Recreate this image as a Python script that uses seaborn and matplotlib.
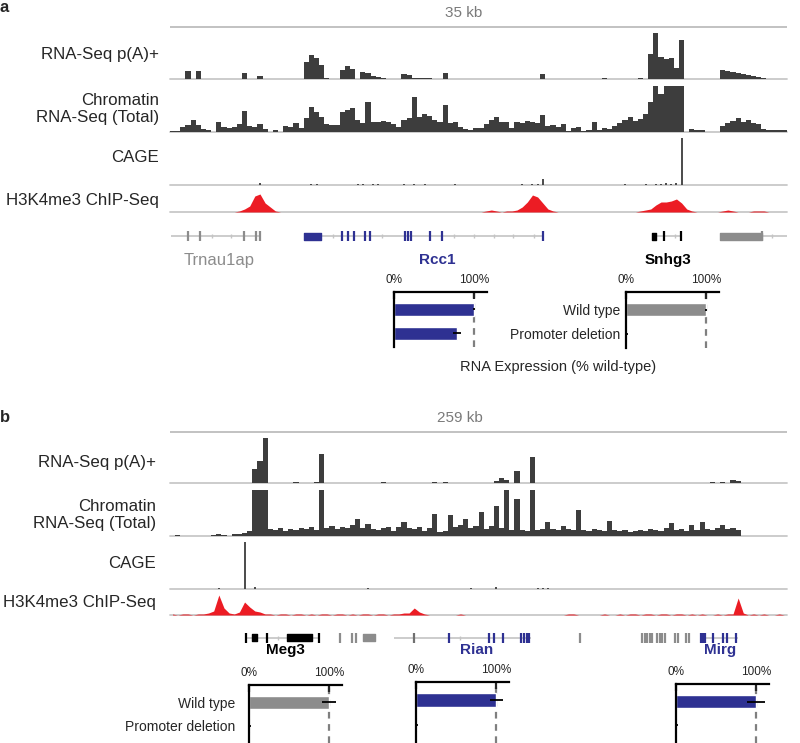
import numpy as np
import matplotlib
matplotlib.use('Agg')
import matplotlib.pyplot as plt
import seaborn as sns

sns.set_style('white')
plt.rcParams['font.family'] = ['Liberation Sans', 'DejaVu Sans']

W, H = 800, 743
DARK = '#3d3d3d'
RED = '#ec1c24'
BLUE = '#2e3192'
GREYBAR = '#8c8c8c'
INTRON = '#c4c4c4'
BASE = '#c8c8c8'

# ---------------- data: panel a (35 kb window, 120 bins) ----------------
span_a = 35.0
a_polyA = [0, 0, 0, 8, 0, 8, 0, 0, 0, 0, 0, 0, 0, 0, 6, 0, 0, 3, 0, 0,
           0, 0, 0, 0, 0, 0, 17, 24, 21, 14, 1, 0, 0, 9, 13, 10, 0, 7, 6, 3,
           2, 1, 0, 0, 0, 5, 4, 1, 1, 1, 1, 0, 0, 6, 0, 0, 0, 0, 0, 0,
           0, 0, 0, 0, 0, 0, 0, 0, 0, 0, 0, 0, 5, 0, 0, 0, 0, 0, 0, 0,
           0, 0, 0, 0, 1, 0, 0, 0, 0, 0, 0, 1, 0, 25, 46, 22, 20, 21, 11, 39,
           0, 0, 0, 0, 0, 0, 0, 9, 8, 7, 6, 5, 4, 3, 2, 1, 0, 0, 0, 0]
a_chrom = [1, 1, 5, 7, 12, 7, 3, 2, 0, 10, 5, 4, 5, 8, 21, 6, 5, 8, 3, 0,
           2, 0, 6, 5, 9, 4, 14, 25, 20, 15, 8, 7, 7, 20, 22, 24, 12, 9, 30, 10,
           10, 11, 10, 8, 5, 12, 14, 35, 15, 18, 16, 12, 10, 27, 9, 10, 5, 3, 2, 4,
           4, 8, 12, 15, 10, 10, 4, 10, 9, 11, 10, 9, 17, 6, 7, 5, 8, 1, 4, 5,
           1, 2, 10, 2, 4, 3, 6, 9, 12, 15, 11, 13, 18, 30, 46, 38, 46, 46, 46, 46,
           0, 3, 2, 2, 0, 0, 0, 6, 9, 11, 14, 10, 12, 9, 8, 3, 2, 2, 2, 2]
a_cage = [0, 0, 0, 0, 0, 0, 0, 0, 0, 0, 0, 0, 0, 0, 0, 0, 0, 2, 0, 0,
          0, 0, 0, 0, 0, 0, 0, 1, 1, 0, 0, 0, 0, 0, 0, 0, 1, 1, 0, 1,
          1, 0, 0, 0, 0, 1, 0, 1, 0, 1, 0, 0, 0, 0, 0, 1, 0, 0, 0, 0,
          0, 0, 0, 0, 0, 0, 0, 0, 1, 0, 1, 1, 6, 0, 0, 0, 0, 0, 0, 0,
          0, 0, 0, 0, 0, 0, 0, 0, 1, 0, 0, 0, 1, 0, 1, 1, 2, 1, 2, 47,
          0, 0, 0, 0, 0, 0, 0, 0, 0, 0, 0, 0, 0, 0, 0, 0, 0, 0, 0, 0]
a_h3k4 = [0, 0, 0, 0, 0, 0, 0, 0, 0, 0, 0, 0, 0, 1, 3, 6, 16, 18, 9, 5,
          1, 0, 0, 0, 0, 0, 0, 0, 0, 0, 0, 0, 0, 0, 0, 0, 0, 0, 0, 0,
          0, 0, 0, 0, 0, 0, 0, 0, 0, 0, 0, 0, 0, 0, 0, 0, 0, 0, 0, 0,
          0, 1, 2, 1, 0, 1, 1, 2, 5, 10, 17, 15, 9, 3, 1, 0, 0, 0, 0, 0,
          0, 0, 0, 0, 0, 0, 0, 0, 0, 0, 0, 1, 2, 3, 7, 10, 10, 11, 13, 9,
          3, 1, 0, 0, 0, 0, 0, 1, 2, 1, 0, 0, 0, 1, 1, 1, 0, 0, 0, 0]

# genes, panel a (kb)
trnau1ap_span = (0.06, 5.16)
trnau1ap_exons = [1.01, 1.70, 4.18, 4.87, 5.10]
trnau1ap_ticks = [2.39, 3.48]
rcc1_span = (7.58, 21.2)
rcc1_blocks = [(7.58, 8.58)]
rcc1_exons = [9.73, 10.08, 10.43, 11.05, 11.36, 13.32, 13.49, 13.67, 14.76, 15.45, 21.15]
rcc1_ticks = [9.27, 12.05, 16.10, 17.26, 18.37, 19.48, 20.62]
snhg3_span = (27.33, 29.02)
snhg3_blocks = [(27.33, 27.56)]
snhg3_exons = [28.03, 29.0]
snhg3_ticks = [28.65]
right_gene_span = (31.2, 35.0)
right_gene_blocks = [(31.2, 33.58)]
right_gene_exons = [33.58]
right_gene_ticks = [34.16]

# ---------------- data: panel b (259 kb window, 120 bins) ----------------
span_b = 259.0
b_polyA = [0, 0, 0, 0, 0, 0, 0, 0, 0, 0, 0, 0, 0, 0, 0, 0, 14, 22, 45, 0,
           0, 0, 0, 0, 1, 0, 0, 0, 1, 29, 0, 0, 0, 0, 0, 0, 0, 0, 0, 0,
           0, 1, 0, 0, 0, 0, 0, 0, 0, 0, 0, 1, 0, 1, 0, 0, 0, 0, 0, 0,
           0, 0, 0, 2, 5, 3, 0, 12, 0, 0, 26, 0, 0, 0, 0, 0, 0, 0, 0, 0,
           0, 0, 0, 0, 0, 0, 0, 0, 0, 0, 0, 0, 0, 0, 0, 0, 0, 0, 0, 0,
           0, 0, 0, 0, 0, 1, 0, 1, 0, 3, 2, 0, 0, 0, 0, 0, 0, 0, 0, 0]
b_chrom = [0, 1, 0, 0, 0, 0, 0, 0, 1, 2, 1, 0, 2, 2, 3, 5, 46, 46, 46, 7,
           6, 8, 5, 7, 6, 8, 7, 9, 6, 46, 8, 10, 7, 9, 8, 11, 17, 8, 12, 7,
           6, 8, 9, 5, 9, 14, 8, 7, 9, 5, 8, 22, 4, 5, 21, 9, 11, 17, 8, 10,
           24, 7, 10, 30, 8, 46, 6, 37, 6, 5, 46, 6, 7, 14, 7, 6, 10, 7, 6, 26,
           6, 5, 7, 6, 5, 15, 6, 5, 6, 4, 5, 6, 5, 7, 6, 5, 8, 13, 6, 7,
           5, 11, 6, 14, 7, 6, 8, 11, 7, 8, 6, 0, 0, 0, 0, 0, 0, 0, 0, 0]
b_cage = [0, 0, 0, 0, 0, 0, 0, 0, 0, 1, 0, 0, 0, 0, 47, 0, 2, 0, 0, 0,
          0, 0, 0, 0, 0, 0, 0, 0, 0, 0, 0, 0, 0, 0, 0, 0, 0, 0, 1, 0,
          0, 0, 0, 0, 0, 0, 0, 0, 0, 0, 0, 0, 0, 0, 0, 0, 0, 0, 1, 0,
          0, 0, 0, 2, 0, 0, 0, 0, 0, 0, 0, 1, 1, 1, 0, 0, 0, 0, 0, 0,
          0, 0, 0, 0, 0, 0, 0, 0, 0, 0, 0, 0, 0, 0, 0, 0, 0, 0, 0, 0,
          0, 0, 0, 0, 0, 0, 0, 0, 0, 0, 0, 0, 0, 0, 0, 0, 0, 0, 0, 0]
b_h3k4 = [1, 0, 1, 1, 0, 1, 1, 2, 4, 20, 7, 2, 1, 3, 13, 8, 4, 3, 1, 1,
          0, 1, 1, 0, 1, 1, 0, 1, 0, 1, 1, 0, 1, 1, 0, 1, 0, 1, 1, 0,
          1, 1, 0, 1, 1, 2, 2, 7, 3, 1, 0, 0, 0, 0, 0, 0, 1, 0, 0, 0,
          0, 0, 0, 0, 0, 0, 0, 0, 0, 0, 0, 0, 0, 0, 0, 0, 0, 1, 1, 0,
          0, 0, 0, 0, 1, 0, 0, 1, 0, 1, 1, 0, 1, 1, 0, 1, 1, 0, 1, 1,
          0, 1, 0, 1, 0, 0, 1, 0, 1, 1, 17, 2, 0, 1, 0, 1, 0, 0, 1, 0]

# genes, panel b (kb)
meg3_span = (31.8, 62.6)
meg3_blocks = [(34.3, 36.4), (49.2, 59.5)]
meg3_exons = [32.1, 40.7, 62.6]
meg3_ticks = [45.5]
grey1_exons = [71.2, 76.3, 78.0]
grey1_blocks = [(81.0, 86.1)]
rian_span = (94.0, 151.7)
rian_first_exon = [102.4]
rian_exons = [117.1, 133.8, 136.0, 139.8, 147.4, 148.8, 150.0, 150.9]
rian_ticks = [121.7]
grey2_exons = [172.3, 198.3, 199.4, 200.4, 201.4, 202.4, 204.5, 205.5, 206.5,
               207.6, 212.1, 213.1, 216.8, 217.9]
mirg_span = (222.8, 238.3)
mirg_exons = [222.8, 223.7, 224.6, 228.0, 232.3, 234.0, 237.7]

# expression (fraction of wild type)
conditions = ['Wild type', 'Promoter deletion']
rcc1_expr, rcc1_err = [1.00, 0.78], [0.01, 0.05]
snhg3_expr, snhg3_err = [1.00, 0.01], [0.01, 0.01]
meg3_expr, meg3_err = [1.00, 0.01], [0.09, 0.01]
rian_expr, rian_err = [1.00, 0.01], [0.08, 0.01]
mirg_expr, mirg_err = [1.00, 0.01], [0.11, 0.01]

fig = plt.figure(figsize=(8, 7.43), dpi=100)


def box(x, y, w, h):
    return [x / W, 1 - (y + h) / H, w / W, h / H]


def ftext(x, y, s, **kw):
    fig.text(x / W, 1 - y / H, s, **kw)


def draw_track(top, height, span, values, kind):
    ax = fig.add_axes(box(170, top, 617, height))
    n = len(values)
    edges = np.linspace(0, span, n + 1)
    centers = (edges[:-1] + edges[1:]) / 2
    ax.axhline(0, color=BASE, lw=1.3, zorder=0, clip_on=False)
    if kind == 'cov':
        ax.fill_between(edges, 0, list(values) + [values[-1]], step='post',
                        color=DARK, lw=0)
    elif kind == 'cage':
        ax.vlines(centers, 0, values, color=DARK, lw=1.3)
    else:
        ax.fill_between(centers, 0, values, color=RED, lw=0)
    ax.set_xlim(0, span)
    ax.set_ylim(0, height)
    ax.axis('off')


def draw_ruler(y, span, label, label_x):
    ax = fig.add_axes(box(170, y - 2, 617, 4))
    ax.hlines(0, 0, span, color='#b8b8b8', lw=1.2)
    ax.set_xlim(0, span)
    ax.set_ylim(-1, 1)
    ax.axis('off')
    ftext(label_x, y - 14, label, ha='center', va='center', fontsize=11, color='#7a7a7a')


def gene_axes(top, span):
    ax = fig.add_axes(box(170, top, 617, 20))
    ax.set_xlim(0, span)
    ax.set_ylim(-1, 1)
    ax.axis('off')
    return ax


def draw_gene(ax, color, span=None, blocks=(), exons=(), ticks=()):
    if span is not None:
        ax.hlines(0, span[0], span[1], color=INTRON, lw=1.2, zorder=1)
    for s, e in blocks:
        ax.broken_barh([(s, e - s)], (-0.35, 0.7), color=color, zorder=2)
    if len(exons):
        ax.vlines(exons, -0.5, 0.5, color=color, lw=1.6, zorder=2)
    if len(ticks):
        ax.vlines(ticks, -0.2, 0.2, color=INTRON, lw=1, zorder=1)


def draw_bars(left, top, height, values, errors, color, labels=False, pad=4, ybottom=1.59):
    ax = fig.add_axes(box(left, top, 93, height))
    sns.barplot(x=values, y=conditions, orient='h', color=color, saturation=1,
                width=0.55, errorbar=None, ax=ax)
    ax.errorbar(values, [0, 1], xerr=errors, fmt='none', ecolor='black',
                elinewidth=1.3, capsize=0, zorder=4)
    ax.axvline(1, color='#7f7f7f', lw=1.6, ls=(0, (3, 2.5)), zorder=0.5)
    ax.set_xlim(0, 1.16)
    ax.set_ylim(ybottom, -0.74)
    for side in ['right', 'bottom']:
        ax.spines[side].set_visible(False)
    for side in ['left', 'top']:
        ax.spines[side].set_visible(True)
        ax.spines[side].set_linewidth(1.6)
        ax.spines[side].set_color('black')
    ax.set_xticks([0, 1])
    ax.set_xticklabels(['0%', '100%'])
    ax.tick_params(axis='x', top=True, bottom=False, labeltop=True, labelbottom=False,
                   direction='in', length=5, width=1.6, pad=4, labelsize=8.5)
    if labels:
        ax.set_yticks([0, 1])
        ax.set_yticklabels(conditions)
        ax.tick_params(axis='y', left=False, length=0, pad=pad, labelsize=10)
    else:
        ax.set_yticks([])
    ax.set_xlabel('')
    ax.set_ylabel('')
    return ax


# ---------------- panel a ----------------
ftext(0, 7, 'a', fontsize=12, fontweight='bold', va='center')
draw_ruler(27, span_a, '35 kb', 464)
draw_track(33, 46, span_a, a_polyA, 'cov')
draw_track(86, 46, span_a, a_chrom, 'cov')
draw_track(138, 47, span_a, a_cage, 'cage')
draw_track(192, 20, span_a, a_h3k4, 'red')

ftext(159, 55, 'RNA-Seq p(A)+', ha='right', va='center', fontsize=12.2)
ftext(159, 109, 'Chromatin\nRNA-Seq (Total)', ha='right', va='center', fontsize=12.2,
      linespacing=1.15)
ftext(159, 157, 'CAGE', ha='right', va='center', fontsize=12.2)
ftext(159, 200, 'H3K4me3 ChIP-Seq', ha='right', va='center', fontsize=12.2)

gax = gene_axes(226, span_a)
draw_gene(gax, GREYBAR, trnau1ap_span, exons=trnau1ap_exons, ticks=trnau1ap_ticks)
draw_gene(gax, BLUE, rcc1_span, rcc1_blocks, rcc1_exons, rcc1_ticks)
draw_gene(gax, 'black', snhg3_span, snhg3_blocks, snhg3_exons, snhg3_ticks)
draw_gene(gax, GREYBAR, right_gene_span, right_gene_blocks, right_gene_exons, right_gene_ticks)

ftext(219, 260, 'Trnau1ap', ha='center', va='center', fontsize=12, color='#8c8c8c')
ftext(437, 260, 'Rcc1', ha='center', va='center', fontsize=11, fontweight='bold', color=BLUE)
ftext(668, 260, 'Snhg3', ha='center', va='center', fontsize=11, fontweight='bold', color='black')

draw_bars(394, 292, 55, rcc1_expr, rcc1_err, BLUE)
draw_bars(626, 292, 56, snhg3_expr, snhg3_err, GREYBAR, labels=True, pad=4)
ftext(558, 367, 'RNA Expression (% wild-type)', ha='center', va='center', fontsize=10.5)

# ---------------- panel b ----------------
ftext(0, 417, 'b', fontsize=12, fontweight='bold', va='center')
draw_ruler(432, span_b, '259 kb', 460)
draw_track(438, 45, span_b, b_polyA, 'cov')
draw_track(490, 46, span_b, b_chrom, 'cov')
draw_track(542, 47, span_b, b_cage, 'cage')
draw_track(595, 20, span_b, b_h3k4, 'red')

ftext(156, 462, 'RNA-Seq p(A)+', ha='right', va='center', fontsize=12.2)
ftext(156, 515, 'Chromatin\nRNA-Seq (Total)', ha='right', va='center', fontsize=12.2,
      linespacing=1.15)
ftext(156, 563, 'CAGE', ha='right', va='center', fontsize=12.2)
ftext(156, 603, 'H3K4me3 ChIP-Seq', ha='right', va='center', fontsize=12.2)

gbx = gene_axes(628, span_b)
draw_gene(gbx, 'black', meg3_span, meg3_blocks, meg3_exons, meg3_ticks)
draw_gene(gbx, GREYBAR, None, grey1_blocks, grey1_exons)
draw_gene(gbx, BLUE, rian_span, exons=rian_exons, ticks=rian_ticks)
draw_gene(gbx, '#707070', None, exons=rian_first_exon)
draw_gene(gbx, GREYBAR, None, exons=grey2_exons)
draw_gene(gbx, BLUE, mirg_span, exons=mirg_exons)

ftext(285, 650, 'Meg3', ha='center', va='center', fontsize=11, fontweight='bold', color='black')
ftext(477, 650, 'Rian', ha='center', va='center', fontsize=11, fontweight='bold', color=BLUE)
ftext(720, 650, 'Mirg', ha='center', va='center', fontsize=11, fontweight='bold', color=BLUE)

draw_bars(249, 685, 58, meg3_expr, meg3_err, GREYBAR, labels=True, pad=10, ybottom=1.75)
draw_bars(416, 682, 61, rian_expr, rian_err, BLUE, ybottom=1.75)
draw_bars(676, 684, 59, mirg_expr, mirg_err, BLUE, ybottom=1.75)

fig.savefig('out.png', dpi=100)
